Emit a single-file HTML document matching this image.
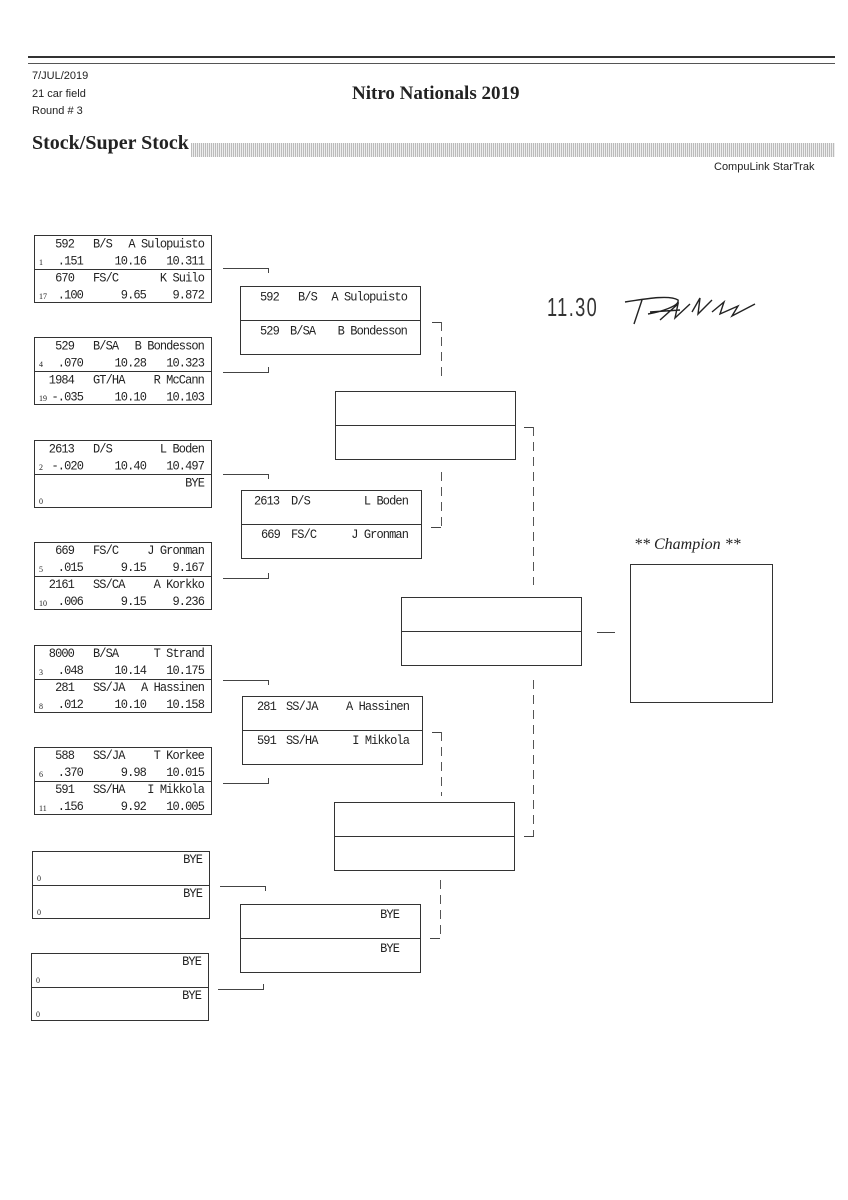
<!DOCTYPE html>
<html><head><meta charset="utf-8"><style>
body{margin:0;background:#fff;}
#p{position:relative;width:848px;height:1200px;overflow:hidden;background:#fff;color:#222;font-family:"Liberation Mono",monospace;}
.a{position:absolute;white-space:nowrap;}
.b{position:absolute;border:1px solid #333;width:178px;height:68px;box-sizing:border-box;}
.c{position:absolute;border:1px solid #333;width:181px;height:69px;box-sizing:border-box;}
.h{position:absolute;left:0;right:0;top:33px;border-top:1px solid #333;}
.t{position:absolute;font-size:12px;line-height:13px;letter-spacing:-0.9px;white-space:nowrap;transform:scaleY(1.1);}
.s{position:absolute;font-family:"Liberation Serif",serif;font-size:8px;left:4px;}
.r1{top:2px}.r2{top:19px}.r3{top:36px}.r4{top:53px}
.s.r2{top:22px}.s.r4{top:56px}
.n{right:137px}.k{left:58px}.m{right:7px}.rt{right:128px}.et{right:65px}
.hl{position:absolute;border-top:1px solid #444;height:0}
.vl{position:absolute;border-left:1px solid #444;width:0}
.dl{position:absolute;width:1px;background:repeating-linear-gradient(180deg,#555 0 9px,transparent 9px 15px);}
.sans{font-family:"Liberation Sans",sans-serif;}
</style></head><body><div id="p">
<div class="a" style="left:28px;top:56px;width:807px;border-top:2px solid #333"></div>
<div class="a" style="left:28px;top:63px;width:807px;border-top:1px solid #555"></div>
<div class="a sans" style="left:32px;top:68px;font-size:11px;line-height:17.5px;">7/JUL/2019<br>21 car field<br>Round # 3</div>
<div class="a" style="left:352px;top:83px;font-family:'Liberation Serif',serif;font-weight:bold;font-size:19px;">Nitro Nationals 2019</div>
<div class="a" style="left:32px;top:132px;font-family:'Liberation Serif',serif;font-weight:bold;font-size:20px;">Stock/Super Stock</div>
<div class="a" style="left:191px;top:143px;width:644px;height:14px;background:repeating-linear-gradient(90deg,#bbb 0 1px,#eee 1px 2px);"></div>
<div class="a sans" style="left:714px;top:161px;font-size:11px;">CompuLink StarTrak</div>

<!-- Round 1 -->
<div class="b" style="left:34px;top:235px"><div class="h"></div>
<span class="t r1 n">592</span><span class="t r1 k">B/S</span><span class="t r1 m">A Sulopuisto</span>
<span class="s r2">1</span><span class="t r2 rt">.151</span><span class="t r2 et">10.16</span><span class="t r2 m">10.311</span>
<span class="t r3 n">670</span><span class="t r3 k">FS/C</span><span class="t r3 m">K Suilo</span>
<span class="s r4">17</span><span class="t r4 rt">.100</span><span class="t r4 et">9.65</span><span class="t r4 m">9.872</span></div>

<div class="b" style="left:34px;top:337px"><div class="h"></div>
<span class="t r1 n">529</span><span class="t r1 k">B/SA</span><span class="t r1 m">B Bondesson</span>
<span class="s r2">4</span><span class="t r2 rt">.070</span><span class="t r2 et">10.28</span><span class="t r2 m">10.323</span>
<span class="t r3 n">1984</span><span class="t r3 k">GT/HA</span><span class="t r3 m">R McCann</span>
<span class="s r4">19</span><span class="t r4 rt">-.035</span><span class="t r4 et">10.10</span><span class="t r4 m">10.103</span></div>

<div class="b" style="left:34px;top:440px"><div class="h"></div>
<span class="t r1 n">2613</span><span class="t r1 k">D/S</span><span class="t r1 m">L Boden</span>
<span class="s r2">2</span><span class="t r2 rt">-.020</span><span class="t r2 et">10.40</span><span class="t r2 m">10.497</span>
<span class="t r3 m">BYE</span>
<span class="s r4">0</span></div>

<div class="b" style="left:34px;top:542px"><div class="h"></div>
<span class="t r1 n">669</span><span class="t r1 k">FS/C</span><span class="t r1 m">J Gronman</span>
<span class="s r2">5</span><span class="t r2 rt">.015</span><span class="t r2 et">9.15</span><span class="t r2 m">9.167</span>
<span class="t r3 n">2161</span><span class="t r3 k">SS/CA</span><span class="t r3 m">A Korkko</span>
<span class="s r4">10</span><span class="t r4 rt">.006</span><span class="t r4 et">9.15</span><span class="t r4 m">9.236</span></div>

<div class="b" style="left:34px;top:645px"><div class="h"></div>
<span class="t r1 n">8000</span><span class="t r1 k">B/SA</span><span class="t r1 m">T Strand</span>
<span class="s r2">3</span><span class="t r2 rt">.048</span><span class="t r2 et">10.14</span><span class="t r2 m">10.175</span>
<span class="t r3 n">281</span><span class="t r3 k">SS/JA</span><span class="t r3 m">A Hassinen</span>
<span class="s r4">8</span><span class="t r4 rt">.012</span><span class="t r4 et">10.10</span><span class="t r4 m">10.158</span></div>

<div class="b" style="left:34px;top:747px"><div class="h"></div>
<span class="t r1 n">588</span><span class="t r1 k">SS/JA</span><span class="t r1 m">T Korkee</span>
<span class="s r2">6</span><span class="t r2 rt">.370</span><span class="t r2 et">9.98</span><span class="t r2 m">10.015</span>
<span class="t r3 n">591</span><span class="t r3 k">SS/HA</span><span class="t r3 m">I Mikkola</span>
<span class="s r4">11</span><span class="t r4 rt">.156</span><span class="t r4 et">9.92</span><span class="t r4 m">10.005</span></div>

<div class="b" style="left:32px;top:851px"><div class="h"></div>
<span class="t r1 m">BYE</span><span class="s r2">0</span><span class="t r3 m">BYE</span><span class="s r4">0</span></div>
<div class="b" style="left:31px;top:953px"><div class="h"></div>
<span class="t r1 m">BYE</span><span class="s r2">0</span><span class="t r3 m">BYE</span><span class="s r4">0</span></div>

<!-- R1 connectors -->
<div class="hl" style="left:223px;top:268px;width:46px"></div><div class="vl" style="left:268px;top:268px;height:5px"></div>
<div class="hl" style="left:223px;top:372px;width:46px"></div><div class="vl" style="left:268px;top:367px;height:5px"></div>
<div class="hl" style="left:223px;top:474px;width:46px"></div><div class="vl" style="left:268px;top:474px;height:5px"></div>
<div class="hl" style="left:223px;top:578px;width:46px"></div><div class="vl" style="left:268px;top:573px;height:5px"></div>
<div class="hl" style="left:223px;top:680px;width:46px"></div><div class="vl" style="left:268px;top:680px;height:5px"></div>
<div class="hl" style="left:223px;top:783px;width:46px"></div><div class="vl" style="left:268px;top:778px;height:5px"></div>
<div class="hl" style="left:220px;top:886px;width:46px"></div><div class="vl" style="left:265px;top:886px;height:5px"></div>
<div class="hl" style="left:218px;top:989px;width:46px"></div><div class="vl" style="left:263px;top:984px;height:5px"></div>

<!-- Round 2 -->
<div class="c" style="left:240px;top:286px"><div class="h"></div>
<span class="t" style="left:19px;top:4px">592</span><span class="t" style="left:57px;top:4px">B/S</span><span class="t" style="right:13px;top:4px">A Sulopuisto</span>
<span class="t" style="left:19px;top:38px">529</span><span class="t" style="left:49px;top:38px">B/SA</span><span class="t" style="right:13px;top:38px">B Bondesson</span></div>
<div class="c" style="left:241px;top:490px"><div class="h"></div>
<span class="t" style="left:12px;top:4px">2613</span><span class="t" style="left:49px;top:4px">D/S</span><span class="t" style="right:13px;top:4px">L Boden</span>
<span class="t" style="left:19px;top:38px">669</span><span class="t" style="left:49px;top:38px">FS/C</span><span class="t" style="right:13px;top:38px">J Gronman</span></div>
<div class="c" style="left:242px;top:696px"><div class="h"></div>
<span class="t" style="left:14px;top:4px">281</span><span class="t" style="left:43px;top:4px">SS/JA</span><span class="t" style="right:13px;top:4px">A Hassinen</span>
<span class="t" style="left:14px;top:38px">591</span><span class="t" style="left:43px;top:38px">SS/HA</span><span class="t" style="right:13px;top:38px">I Mikkola</span></div>
<div class="c" style="left:240px;top:904px"><div class="h"></div>
<span class="t" style="right:21px;top:4px">BYE</span><span class="t" style="right:21px;top:38px">BYE</span></div>

<!-- R2 connectors -->
<div class="hl" style="left:432px;top:322px;width:10px"></div><div class="dl" style="left:441px;top:322px;height:58px"></div>
<div class="hl" style="left:431px;top:527px;width:10px"></div><div class="dl" style="left:441px;top:472px;height:55px"></div>
<div class="hl" style="left:432px;top:732px;width:10px"></div><div class="dl" style="left:441px;top:732px;height:64px"></div>
<div class="hl" style="left:430px;top:938px;width:10px"></div><div class="dl" style="left:440px;top:880px;height:58px"></div>

<!-- Round 3 -->
<div class="c" style="left:335px;top:391px;width:181px"><div class="h"></div></div>
<div class="c" style="left:334px;top:802px;width:181px"><div class="h"></div></div>
<div class="hl" style="left:524px;top:427px;width:10px"></div><div class="dl" style="left:533px;top:427px;height:158px"></div>
<div class="hl" style="left:524px;top:836px;width:10px"></div><div class="dl" style="left:533px;top:680px;height:156px"></div>

<!-- Round 4 -->
<div class="c" style="left:401px;top:597px;width:181px"><div class="h"></div></div>
<div class="hl" style="left:597px;top:632px;width:18px"></div>

<!-- Champion -->
<div class="a" style="left:634px;top:536px;font-family:'Liberation Serif',serif;font-style:italic;font-size:16px;">** Champion **</div>
<div class="a" style="left:630px;top:564px;width:143px;height:139px;border:1px solid #333;box-sizing:border-box"></div>

<!-- handwriting -->
<div class="a" style="left:547px;top:292px;font-family:'Liberation Sans',sans-serif;font-size:26px;color:#333;letter-spacing:2px;transform:scaleX(0.7);transform-origin:left;">11.30</div>
<svg class="a" style="left:620px;top:290px" width="150" height="40" viewBox="0 0 150 40">
<path d="M5 12 C30 8 50 5 58 10 C60 16 40 22 28 24 M22 10 L14 34 M30 22 L60 20 M40 30 L58 14 L55 28 L70 14 M72 22 L80 8 L78 24 L92 10 M92 22 L104 12 L100 24 L118 16 L112 26 L135 14" fill="none" stroke="#222" stroke-width="1.4"/>
</svg>
</div></body></html>
